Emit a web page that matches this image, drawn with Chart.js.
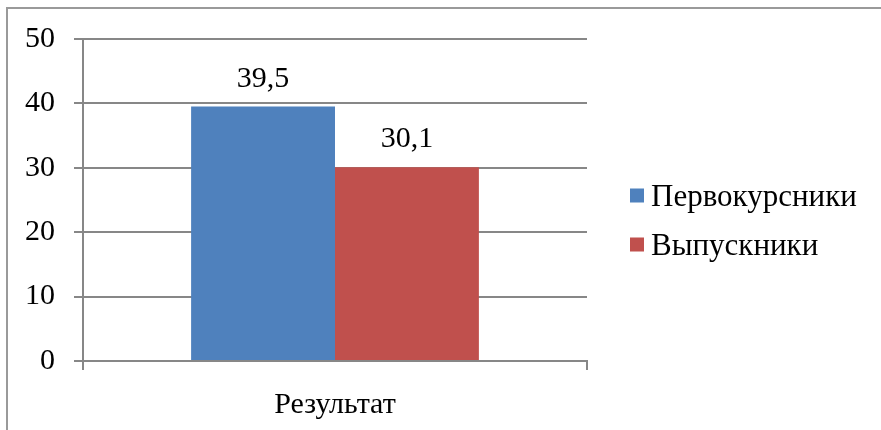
<!DOCTYPE html>
<html>
<head>
<meta charset="utf-8">
<script src="https://cdn.jsdelivr.net/npm/chart.js@4"></script>
<style>
  html, body { margin: 0; padding: 0; background: #fff; }
  #wrap { width: 881px; height: 430px; }
</style>
</head>
<body>
<div id="wrap"><canvas id="chart"></canvas></div>
<script>
// Data
const categories = ["Результат"];
const seriesNames = ["Первокурсники", "Выпускники"];
const firstYear = [39.5];
const graduates = [30.1];
const seriesColors = ["#4F81BD", "#C0504D"];

const FONT = "Liberation Serif";
const GRID = "#878787";
Chart.defaults.font.family = FONT;

// Value labels above bars, written with a decimal comma
const valueLabels = {
  id: "valueLabels",
  afterDatasetsDraw(chart) {
    const ctx = chart.ctx;
    ctx.save();
    ctx.font = "30px " + FONT;
    ctx.fillStyle = "#000";
    ctx.textAlign = "center";
    ctx.textBaseline = "alphabetic";
    chart.data.datasets.forEach((ds, i) => {
      chart.getDatasetMeta(i).data.forEach((bar, j) => {
        const txt = String(ds.data[j]).replace(".", ",");
        ctx.fillText(txt, bar.x, bar.y - 20);
      });
    });
    ctx.restore();
  }
};

// Legend to the right of the plot, built from the datasets
const sideLegend = {
  id: "sideLegend",
  afterDraw(chart) {
    const ctx = chart.ctx;
    const a = chart.chartArea;
    const x = a.right + 43;
    const yMid = (a.top + a.bottom) / 2 + 20;
    const step = 49;
    const n = chart.data.datasets.length;
    ctx.save();
    ctx.font = "31px " + FONT;
    ctx.textBaseline = "middle";
    ctx.textAlign = "left";
    chart.data.datasets.forEach((ds, i) => {
      const y = yMid + (i - (n - 1) / 2) * step;
      ctx.fillStyle = ds.backgroundColor;
      ctx.fillRect(x, y - 7, 14, 14);
      ctx.fillStyle = "#000";
      ctx.fillText(ds.label, x + 21, y + 2);
    });
    ctx.restore();
  }
};

// Thin frame around the whole chart, as in the original export
const frame = {
  id: "frame",
  beforeDraw(chart) {
    const ctx = chart.ctx;
    ctx.save();
    ctx.strokeStyle = "#9a9a9a";
    ctx.lineWidth = 2;
    ctx.strokeRect(7, 8, chart.width + 20, chart.height + 20);
    ctx.restore();
  }
};

new Chart(document.getElementById("chart"), {
  type: "bar",
  data: {
    labels: categories,
    datasets: [
      { label: seriesNames[0], data: firstYear, backgroundColor: seriesColors[0] },
      { label: seriesNames[1], data: graduates, backgroundColor: seriesColors[1] },
    ],
  },
  options: {
    responsive: true,
    maintainAspectRatio: false,
    animation: false,
    devicePixelRatio: 1,
    layout: { padding: { left: 0, top: 39, right: 294, bottom: 0 } },
    datasets: { bar: { categoryPercentage: 0.571, barPercentage: 1.0 } },
    scales: {
      y: {
        min: 0,
        max: 50,
        ticks: { stepSize: 10, color: "#000", font: { family: FONT, size: 30 }, padding: 19 },
        grid: { color: GRID, lineWidth: 2, tickLength: 9 },
        border: { color: GRID, width: 2 },
        afterFit(scale) { scale.width = 83; },
      },
      x: {
        ticks: { color: "#000", font: { family: FONT, size: 30 }, padding: 17 },
        grid: { offset: true, drawOnChartArea: false, color: GRID, lineWidth: 2, tickLength: 9 },
        border: { color: GRID, width: 2 },
        afterFit(scale) { scale.height = 69; },
      },
    },
    plugins: {
      legend: { display: false },
      tooltip: { enabled: false },
    },
  },
  plugins: [valueLabels, sideLegend, frame],
});
</script>
</body>
</html>
